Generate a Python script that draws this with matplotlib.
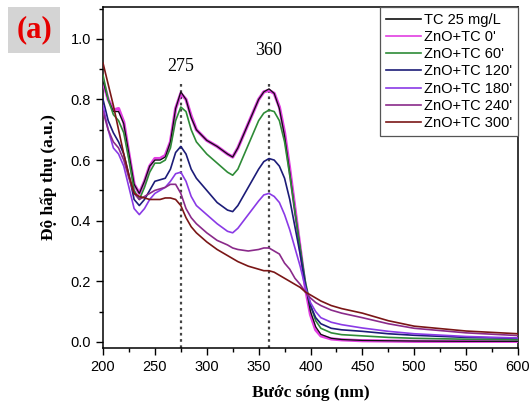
import matplotlib
matplotlib.use("Agg")
import matplotlib.pyplot as plt
from matplotlib.ticker import MultipleLocator, FormatStrFormatter
from matplotlib.patches import Rectangle

# wavelength grid (nm)
wl = [200, 205, 210, 215, 220, 225, 230, 235, 240, 245, 250, 255, 260, 265, 270,
      275, 280, 285, 290, 300, 310, 320, 325, 330, 340, 350, 355, 360, 365, 370,
      375, 380, 385, 390, 395, 400, 405, 410, 420, 430, 450, 475, 500, 550, 600]

tc_25 = [0.86, 0.80, 0.76, 0.76, 0.72, 0.62, 0.52, 0.49, 0.53, 0.58, 0.60, 0.60, 0.61, 0.66, 0.77,
         0.825, 0.80, 0.74, 0.70, 0.665, 0.645, 0.62, 0.61, 0.64, 0.72, 0.80, 0.825, 0.835, 0.82, 0.77,
         0.68, 0.56, 0.43, 0.31, 0.19, 0.10, 0.05, 0.025, 0.012, 0.008, 0.005, 0.004, 0.003, 0.002, 0.002]
zno_0 = [0.86, 0.80, 0.765, 0.77, 0.725, 0.62, 0.52, 0.49, 0.53, 0.58, 0.605, 0.605, 0.615, 0.66, 0.77,
         0.82, 0.80, 0.745, 0.70, 0.665, 0.645, 0.62, 0.61, 0.64, 0.72, 0.80, 0.825, 0.83, 0.82, 0.775,
         0.69, 0.57, 0.44, 0.31, 0.18, 0.09, 0.04, 0.02, 0.01, 0.007, 0.004, 0.003, 0.002, 0.002, 0.002]
zno_60 = [0.88, 0.80, 0.75, 0.73, 0.69, 0.60, 0.50, 0.47, 0.51, 0.56, 0.59, 0.59, 0.60, 0.64, 0.73,
          0.775, 0.76, 0.70, 0.66, 0.62, 0.59, 0.56, 0.55, 0.57, 0.65, 0.73, 0.755, 0.765, 0.76, 0.73,
          0.66, 0.55, 0.43, 0.31, 0.20, 0.12, 0.07, 0.045, 0.03, 0.024, 0.02, 0.015, 0.012, 0.009, 0.007]
zno_120 = [0.80, 0.73, 0.69, 0.66, 0.62, 0.55, 0.47, 0.45, 0.47, 0.50, 0.53, 0.535, 0.54, 0.57, 0.625,
           0.645, 0.62, 0.57, 0.54, 0.50, 0.46, 0.435, 0.43, 0.45, 0.51, 0.57, 0.595, 0.605, 0.60, 0.58,
           0.54, 0.47, 0.38, 0.29, 0.19, 0.12, 0.08, 0.06, 0.045, 0.04, 0.035, 0.027, 0.022, 0.015, 0.012]
zno_180 = [0.78, 0.70, 0.64, 0.62, 0.58, 0.51, 0.44, 0.42, 0.44, 0.47, 0.49, 0.50, 0.51, 0.53, 0.555,
           0.56, 0.53, 0.48, 0.45, 0.42, 0.39, 0.365, 0.36, 0.375, 0.42, 0.465, 0.485, 0.49, 0.48, 0.46,
           0.42, 0.37, 0.31, 0.25, 0.18, 0.13, 0.10, 0.08, 0.065, 0.057, 0.046, 0.035, 0.027, 0.018, 0.013]
zno_240 = [0.76, 0.70, 0.66, 0.64, 0.60, 0.54, 0.49, 0.47, 0.48, 0.49, 0.50, 0.505, 0.51, 0.52, 0.52,
           0.49, 0.44, 0.41, 0.39, 0.36, 0.335, 0.32, 0.31, 0.305, 0.30, 0.305, 0.31, 0.31, 0.30, 0.29,
           0.26, 0.24, 0.21, 0.19, 0.165, 0.145, 0.13, 0.12, 0.105, 0.095, 0.08, 0.06, 0.045, 0.03, 0.021]
zno_300 = [0.92, 0.85, 0.78, 0.70, 0.62, 0.55, 0.49, 0.48, 0.475, 0.47, 0.47, 0.47, 0.475, 0.475, 0.47,
           0.45, 0.41, 0.38, 0.36, 0.33, 0.305, 0.285, 0.275, 0.265, 0.25, 0.24, 0.235, 0.235, 0.23, 0.22,
           0.21, 0.20, 0.19, 0.18, 0.165, 0.155, 0.145, 0.135, 0.12, 0.11, 0.095, 0.07, 0.052, 0.036, 0.027]

labels = ["TC 25 mg/L", "ZnO+TC 0'", "ZnO+TC 60'", "ZnO+TC 120'",
          "ZnO+TC 180'", "ZnO+TC 240'", "ZnO+TC 300'"]
series = [tc_25, zno_0, zno_60, zno_120, zno_180, zno_240, zno_300]
colors = ["#101010", "#e23ee2", "#2e8b37", "#1c1c78", "#8a3ae6", "#8a2a8a", "#7a1616"]
peaks = [275, 360]
peak_text_y = [0.91, 0.96]

fig = plt.figure(figsize=(5.31, 4.05), dpi=100)
ax = fig.add_axes([103/531, 57/405, 415/531, 341/405])

# magenta goes under the thin black TC line
order = [1, 0, 2, 3, 4, 5, 6]
handles = [None]*7
for i in order:
    lw = 2.3 if i == 1 else (0.9 if i == 0 else 1.2)
    h, = ax.plot(wl, series[i], color=colors[i], lw=lw, label=labels[i], zorder=3)
    handles[i] = h

for p, ty in zip(peaks, peak_text_y):
    ax.vlines(p, -0.02, 0.85, colors="#444444", linestyles=(0, (1.2, 1.6)), lw=1.6, zorder=2)
    ax.text(p, ty, str(p), ha="center", va="center", family="Liberation Serif", fontsize=13)

ax.set_xlim(200, 600)
ax.set_ylim(-0.02, 1.105)
ax.xaxis.set_major_locator(MultipleLocator(50))
ax.xaxis.set_minor_locator(MultipleLocator(25))
ax.yaxis.set_major_locator(MultipleLocator(0.2))
ax.yaxis.set_minor_locator(MultipleLocator(0.1))
ax.yaxis.set_major_formatter(FormatStrFormatter("%.1f"))
ax.tick_params(which="both", direction="out", top=False, right=False,
               labelsize=10.5, labelfontfamily="Liberation Sans")
ax.tick_params(which="major", length=5, width=1)
ax.tick_params(which="minor", length=3, width=1)
for s in ax.spines.values():
    s.set_linewidth(1.1)

ax.set_xlabel("Bước sóng (nm)", family="Liberation Serif", fontweight="bold", fontsize=12.5, labelpad=8)
ax.set_ylabel("Độ hấp thụ (a.u.)", family="Liberation Serif", fontweight="bold", fontsize=12.5, labelpad=10)

leg_handles = [plt.Line2D([], [], color=c, lw=1.2) for c in colors]
leg = ax.legend(handles=leg_handles, labels=labels, loc="upper right", borderaxespad=0,
                fancybox=False, edgecolor="#555555", framealpha=1,
                prop={"family": "Liberation Sans", "size": 10.5},
                labelspacing=0.22, handlelength=2.4, handletextpad=0.2, borderpad=0.4)
leg.get_frame().set_linewidth(0.9)

fig.patches.append(Rectangle((8/531, 1 - 53/405), 52/531, 46/405, transform=fig.transFigure,
                             facecolor="#d4d4d4", edgecolor="none"))
fig.text(34/531, 1 - 30/405, "(a)", color="#e60000", fontsize=22, fontweight="bold",
         family="Liberation Serif", ha="center", va="center")

fig.savefig("out.png", dpi=100)
